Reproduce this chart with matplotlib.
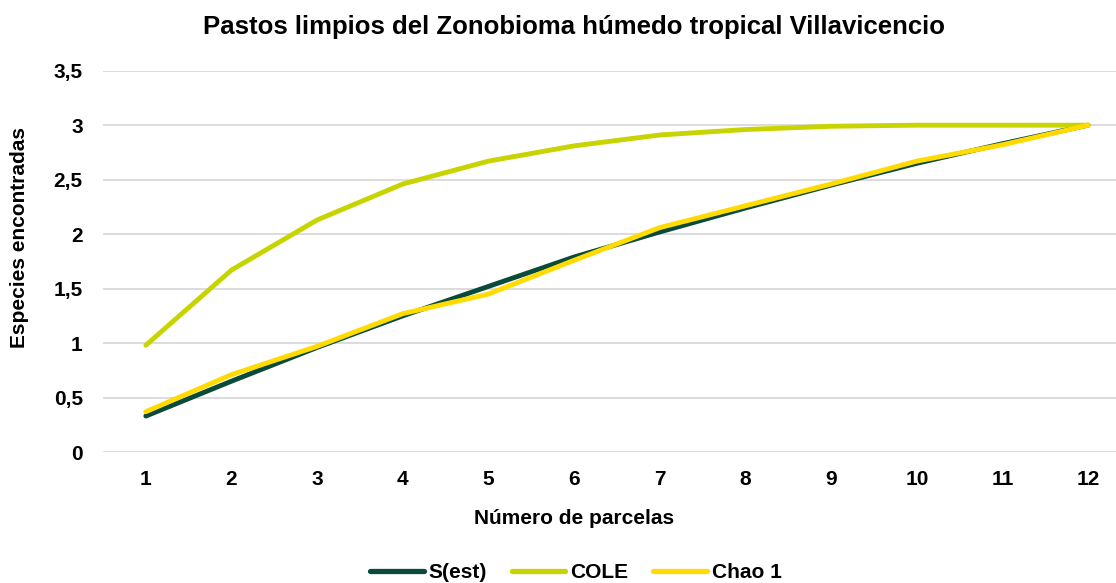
import matplotlib
matplotlib.use("Agg")
import matplotlib.pyplot as plt
from matplotlib.lines import Line2D

plt.rcParams['font.family'] = ['Liberation Sans', 'DejaVu Sans']

parcelas = [1, 2, 3, 4, 5, 6, 7, 8, 9, 10, 11, 12]
s_est = [0.33, 0.65, 0.96, 1.25, 1.52, 1.79, 2.02, 2.24, 2.45, 2.65, 2.83, 3.0]
cole = [0.98, 1.67, 2.13, 2.46, 2.67, 2.81, 2.91, 2.96, 2.99, 3.0, 3.0, 3.0]
chao1 = [0.37, 0.71, 0.97, 1.27, 1.45, 1.76, 2.06, 2.26, 2.46, 2.67, 2.82, 3.0]

y_ticks = [0, 0.5, 1, 1.5, 2, 2.5, 3, 3.5]
y_labels = ['0', '0,5', '1', '1,5', '2', '2,5', '3', '3,5']

series = [
    ('S(est)', s_est, '#0A4A3A'),
    ('COLE', cole, '#C8D400'),
    ('Chao 1', chao1, '#FFDB00'),
]

W, H = 1116, 583
fig = plt.figure(figsize=(W / 100, H / 100), dpi=100)
ax = fig.add_axes([103 / W, (H - 452) / H, (1131 - 103) / W, (452 - 70.7) / H])

for name, vals, col in series:
    ax.plot(parcelas, vals, color=col, lw=3.5, solid_capstyle='round',
            solid_joinstyle='round', label=name, zorder=3)

ax.set_xlim(0.5, 12.5)
ax.set_ylim(0, 3.5)
ax.set_yticks(y_ticks)
ax.set_yticklabels(y_labels)
ax.set_xticks(parcelas)
ax.set_xticklabels([str(p) for p in parcelas])
ax.yaxis.grid(True, color='#D9D9D9', lw=1.3)
ax.set_axisbelow(True)
for sp in ax.spines.values():
    sp.set_visible(False)
ax.tick_params(length=0, labelsize=15)
ax.tick_params(axis='x', pad=13)
ax.tick_params(axis='y', pad=14.5)
for lab in ax.get_xticklabels() + ax.get_yticklabels():
    lab.set_fontweight('bold')

fig.text(574 / W, 1 - 27 / H, 'Pastos limpios del Zonobioma húmedo tropical Villavicencio',
         ha='center', va='center', fontsize=18.5, fontweight='bold')
fig.text(20 / W, 1 - 237 / H, 'Especies encontradas', rotation=90,
         ha='center', va='center', fontsize=15, fontweight='bold')
fig.text(574 / W, 1 - 518 / H, 'Número de parcelas',
         ha='center', va='center', fontsize=15, fontweight='bold')

handles = [Line2D([0], [0], color=c, lw=3.8, solid_capstyle='round') for _, _, c in series]
fig.legend(handles, [n for n, _, _ in series], loc='center',
           bbox_to_anchor=(576 / W, 1 - 573 / H), ncol=3, frameon=False,
           prop={'weight': 'bold', 'size': 15}, handlelength=2.55,
           handletextpad=0.25, columnspacing=1.2, borderpad=0)

fig.savefig('out.png', dpi=100)
